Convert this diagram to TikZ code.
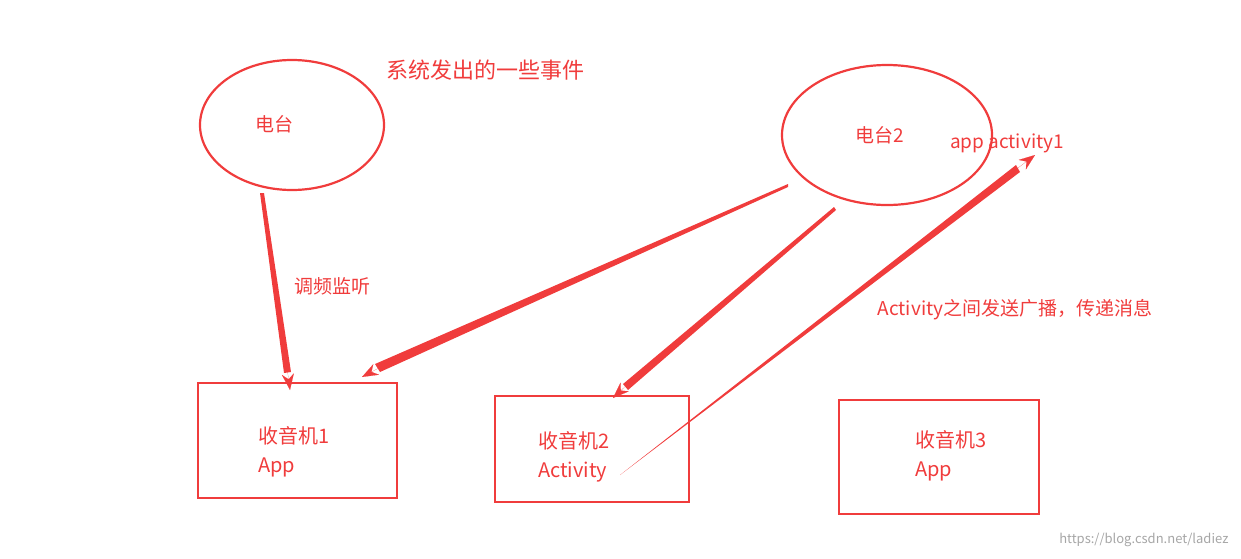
\documentclass[tikz,border=0pt]{standalone}
\usepackage{fontspec}
\setmainfont{Noto Sans CJK SC}
\usetikzlibrary{arrows.meta,shapes.geometric}
\definecolor{rd}{HTML}{F03C3C}
\begin{document}
\begin{tikzpicture}[x=1pt,y=-1pt,
  shp/.style={draw=rd,line width=2.2pt},
  lbl/.style={text=rd,font=\fontsize{19}{22}\selectfont,inner sep=0pt},
  arr/.style={draw=rd,line width=3.5pt,-{Stealth[length=16pt,width=12pt]}}]
\useasboundingbox (0,0) rectangle (1241,558);
\node[shp,ellipse,minimum width=184,minimum height=130,draw] (e1) at (292,125) {};
\node[shp,ellipse,minimum width=210,minimum height=140,draw] (e2) at (887,135) {};
\draw[shp] (198,383) rectangle (397,498);
\draw[shp] (495,396) rectangle (689,502);
\draw[shp] (839,400) rectangle (1039,514);
\node[lbl,font=\fontsize{22}{25}\selectfont] (t0) at (485,70) {系统发出的一些事件};
\node[lbl] (t1) at (274,124) {电台};
\node[lbl] (t2) at (880,135) {电台2};
\node[lbl] (t3) at (332,286) {调频监听};
\node[lbl] (t4) at (1015,310) {Activity之间发送广播，传递消息};
\node[lbl] (t5) at (1007,143) {app activity1};
\node[lbl,align=left,anchor=west,font=\fontsize{20}{29}\selectfont] (b1) at (258,452) {收音机1\\App};
\node[lbl,align=left,anchor=west,font=\fontsize{20}{29}\selectfont] (b2) at (538,457) {收音机2\\Activity};
\node[lbl,align=left,anchor=west,font=\fontsize{20}{29}\selectfont] (b3) at (915,456) {收音机3\\App};
\coordinate (a1s) at (262,193); \coordinate (a1e) at (290,390);
\coordinate (a2s) at (788,185); \coordinate (a2e) at (362,377);
\coordinate (a3s) at (835,208); \coordinate (a3e) at (613,398);
\coordinate (a4s) at (620,475); \coordinate (a4e) at (1035,155);
\fill[rd] (260,193) -- (264,193) -- (291,372) -- (284,373) -- cycle;
\draw[arr,line width=0.1pt] (286,360) -- (a1e);
\fill[rd] (788,184) -- (788,187) -- (380,372) -- (375,364) -- cycle;
\draw[arr,line width=0.1pt] (390,362) -- (a2e);
\fill[rd] (834,207) -- (836,210) -- (628,390) -- (623,384) -- cycle;
\draw[arr,line width=0.1pt] (632,380) -- (a3e);
\fill[rd] (620,475) -- (1020,172) -- (1016,165) -- cycle;
\draw[arr,line width=0.1pt] (1010,174) -- (a4e);
\node[text=gray!70,font=\fontsize{13}{15}\selectfont,anchor=east] (wm) at (1232,540) {https://blog.csdn.net/ladiez};
\end{tikzpicture}
\end{document}
